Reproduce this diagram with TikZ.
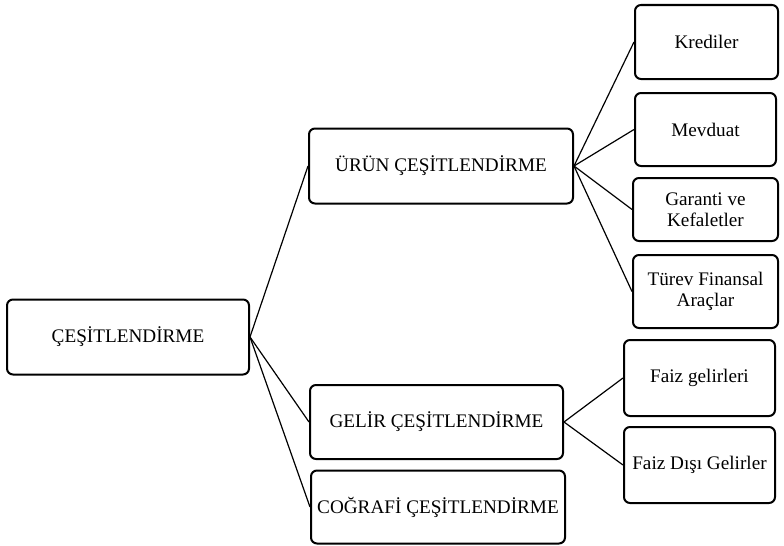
\documentclass[tikz,border=0pt]{standalone}
\usepackage{fontspec}
\setmainfont{Liberation Serif}

\begin{document}
\begin{tikzpicture}[x=0.5pt, y=-0.5pt,
                    box/.style={rectangle,rounded corners=3pt,draw,line width=1pt,
                                inner sep=1pt,align=center,
                                font=\fontsize{9.6}{10.4}\selectfont},
                    link/.style={line width=0.6pt}]

  \useasboundingbox (0,0) rectangle (784,546);

  \node[box,minimum width=121pt,minimum height=37.5pt] (root) at (128,337) {ÇEŞİTLENDİRME};

  \node[box,minimum width=132pt,minimum height=37.5pt] (urun) at (441,166) {ÜRÜN ÇEŞİTLENDİRME};
  \node[box,minimum width=126.5pt,minimum height=37pt] (gelir) at (436.5,422) {GELİR ÇEŞİTLENDİRME};
  \node[box,minimum width=127pt,minimum height=36.5pt] (cog) at (438,507) {COĞRAFİ ÇEŞİTLENDİRME};

  \node[box,minimum width=71.5pt,minimum height=37pt] (kredi) at (706.5,42) {Krediler};
  \node[box,minimum width=70.5pt,minimum height=36.5pt] (mevduat) at (705.5,129.5) {Mevduat};
  \node[box,minimum width=72.5pt,minimum height=31.5pt] (garanti) at (705.5,209.5) {Garanti ve\\Kefaletler};
  \node[box,minimum width=72.5pt,minimum height=36.5pt] (turev) at (705.5,291.5) {Türev Finansal\\Araçlar};

  \node[box,minimum width=75.5pt,minimum height=38pt] (faiz) at (699.5,378) {Faiz gelirleri};
  \node[box,minimum width=75.5pt,minimum height=38pt] (faizdisi) at (699.5,465) {Faiz Dışı Gelirler};

\path[link]
    (root.east) edge (urun.west)
    (root.east) edge (gelir.west)
    (root.east) edge (cog.west)

    (urun.east) edge (kredi.west)
    (urun.east) edge (mevduat.west)
    (urun.east) edge (garanti.west)
    (urun.east) edge (turev.west)

    (gelir.east) edge (faiz.west)
    (gelir.east) edge (faizdisi.west);

\end{tikzpicture}
\end{document}
